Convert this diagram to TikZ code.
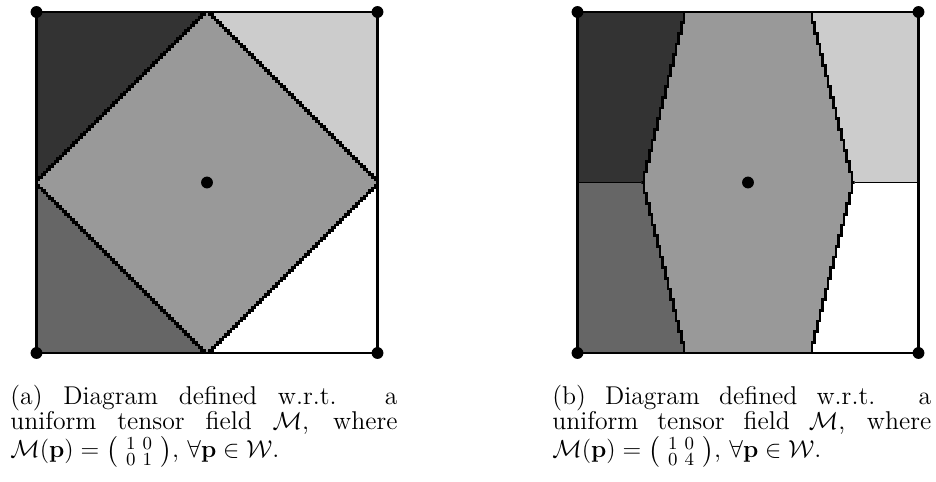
\documentclass[tikz,border=0pt]{standalone}
\usepackage{amsmath,amssymb}
\definecolor{gA}{gray}{0.2}
\definecolor{gB}{gray}{0.4}
\definecolor{gM}{gray}{0.6}
\definecolor{gC}{gray}{0.8}
\tikzset{
  bnd/.style={line width=1.3pt, line join=miter},
  frame/.style={line width=1pt},
  sep/.style={line width=0.9pt},
  dot/.style={circle, fill=black, inner sep=0pt, minimum size=5.8pt},
  captext/.style={anchor=base west, inner sep=0pt}
}
\newcommand{\capfont}{\fontsize{12.6pt}{12.25pt}\selectfont}
\begin{document}
\begin{tikzpicture}[x=0.4898pt,y=-0.4898pt]
\useasboundingbox (0,0) rectangle (936,481);

% ---------- panel (a) ----------
\begin{scope}[xshift=17.878pt, yshift=-5.878pt, x=1.3049pt, y=-1.3049pt]
  \fill[gM] (0,0) rectangle (128,128);
  \fill[gA] (0,0) -- (64,0) \foreach \k in {1,...,64}{ -- ++(-1,0) -- ++(0,1) } -- cycle;
  \fill[gC] (64,0) \foreach \k in {1,...,64}{ -- ++(1,0) -- ++(0,1) } -- (128,0) -- cycle;
  \fill[gB] (0,64) \foreach \k in {1,...,64}{ -- ++(0,1) -- ++(1,0) } -- (0,128) -- cycle;
  \fill[white] (128,64) \foreach \k in {1,...,64}{ -- ++(0,1) -- ++(-1,0) } -- (128,128) -- cycle;
  \draw[bnd] (64,0)
     \foreach \k in {1,...,64}{ -- ++(-1,0) -- ++(0,1) }
     \foreach \k in {1,...,64}{ -- ++(0,1) -- ++(1,0) }
     \foreach \k in {1,...,64}{ -- ++(1,0) -- ++(0,-1) }
     \foreach \k in {1,...,64}{ -- ++(0,-1) -- ++(-1,0) } -- cycle;
  \draw[frame] (0,0) rectangle (128,128);
  \node[dot] (a-tl) at (0,0) {};
  \node[dot] (a-tr) at (128,0) {};
  \node[dot] (a-bl) at (0,128) {};
  \node[dot] (a-br) at (128,128) {};
  \node[dot] (a-c) at (64,64) {};
\end{scope}

% ---------- panel (b) ----------
\begin{scope}[xshift=282.86pt, yshift=-5.878pt, x=1.3049pt, y=-1.3049pt]
  \fill[gM] (0,0) rectangle (128,128);
  \fill[gA] (0,0) -- (40,0) \foreach \k in {1,...,16}{ -- ++(0,4) -- ++(-1,0) } -- (0,64) -- cycle;
  \fill[gC] (88,0) \foreach \k in {1,...,16}{ -- ++(0,4) -- ++(1,0) } -- (128,64) -- (128,0) -- cycle;
  \fill[gB] (0,64) -- (24,64) \foreach \k in {1,...,16}{ -- ++(1,0) -- ++(0,4) } -- (0,128) -- cycle;
  \fill[white] (104,64) \foreach \k in {1,...,16}{ -- ++(-1,0) -- ++(0,4) } -- (128,128) -- (128,64) -- cycle;
  \draw[bnd] (40,0)
     \foreach \k in {1,...,16}{ -- ++(0,4) -- ++(-1,0) }
     \foreach \k in {1,...,16}{ -- ++(1,0) -- ++(0,4) };
  \draw[bnd] (88,0)
     \foreach \k in {1,...,16}{ -- ++(0,4) -- ++(1,0) }
     \foreach \k in {1,...,16}{ -- ++(-1,0) -- ++(0,4) };
  \coordinate (b-ml) at (0,64);
  \coordinate (b-mli) at (24,64);
  \coordinate (b-mri) at (104,64);
  \coordinate (b-mr) at (128,64);
  \draw[sep] (b-ml) -- (b-mli);
  \draw[sep] (b-mri) -- (b-mr);
  \draw[frame] (0,0) rectangle (128,128);
  \node[dot] (b-tl) at (0,0) {};
  \node[dot] (b-tr) at (128,0) {};
  \node[dot] (b-bl) at (0,128) {};
  \node[dot] (b-br) at (128,128) {};
  \node[dot] (b-c) at (64,64) {};
\end{scope}

% ---------- captions ----------
\node[captext] (capa) at (10,404) {\capfont\parbox[t]{189.6pt}{(a) Diagram defined w.r.t. a\linebreak uniform tensor field $\mathcal{M}$, where\linebreak $\mathcal{M}(\mathbf{p}) = \bigl(\,\begin{smallmatrix}1&0\\0&1\end{smallmatrix}\,\bigr)$, $\forall\mathbf{p}\in\mathcal{W}$.}};
\node[captext] (capb) at (552,404) {\capfont\parbox[t]{185.6pt}{(b) Diagram defined w.r.t. a\linebreak uniform tensor field $\mathcal{M}$, where\linebreak $\mathcal{M}(\mathbf{p}) = \bigl(\,\begin{smallmatrix}1&0\\0&4\end{smallmatrix}\,\bigr)$, $\forall\mathbf{p}\in\mathcal{W}$.}};
\end{tikzpicture}
\end{document}
